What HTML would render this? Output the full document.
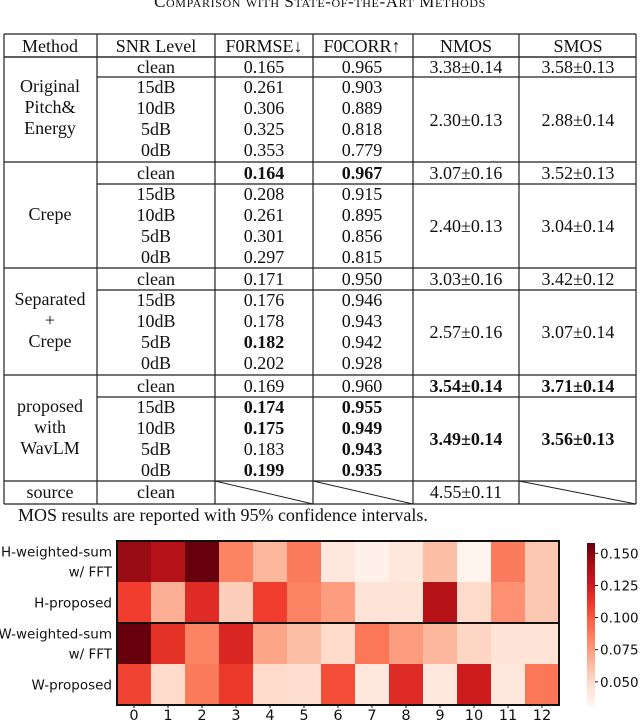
<!DOCTYPE html>
<html><head><meta charset="utf-8"><style>
html,body{margin:0;padding:0;background:#fff;width:640px;height:721px;overflow:hidden}
svg{display:block}
.t{font-family:"Liberation Serif",serif;font-size:18px;fill:#111}
.b{font-weight:bold}
.s{font-family:"DejaVu Sans","Liberation Sans",sans-serif;font-size:13.5px;fill:#111}
.x{font-size:14.5px}
</style></head><body>
<svg id="root" width="640" height="721" viewBox="0 0 640 721">
<text class="t" x="320" y="7" text-anchor="middle" style="font-variant:small-caps;font-size:17px;letter-spacing:0.6px">Comparison with State-of-the-Art Methods</text>
<g id="table"></g>
<text class="t" x="18" y="521">MOS results are reported with 95% confidence intervals.</text>
<g id="heat"></g>
</svg>
<script>
const NS='http://www.w3.org/2000/svg';
function mk(tag,attrs,parent,txt){const e=document.createElementNS(NS,tag);for(const k in attrs)e.setAttribute(k,attrs[k]);if(txt!==undefined)e.textContent=txt;parent.appendChild(e);return e;}
// ---------- Table ----------
const T=document.getElementById('table');
const colX=[4,97,215,313,413,519,636];
const colC=[50,156,264,362,466,578];
function line(x1,y1,x2,y2,w){const l=mk('line',{x1:x1,y1:y1,x2:x2,y2:y2,stroke:'#222','stroke-width':w||1.2},T);

}
function txt(x,y,s,bold,name){const e=mk('text',{x:x,y:y+6,'text-anchor':'middle',class:'t'+(bold?' b':'')},T,s);

}
const headers=['Method','SNR Level','F0RMSE↓','F0CORR↑','NMOS','SMOS'];
headers.forEach((h,i)=>txt(colC[i],46,h,false,'column-header'));
const groups=[
 {top:57,sep:77,method:['Original','Pitch&','Energy'],my:[86,107,128],rows:[['clean','0.165','0.965'],['15dB','0.261','0.903'],['10dB','0.306','0.889'],['5dB','0.325','0.818'],['0dB','0.353','0.779']],bold:[],cm:['3.38±0.14','3.58±0.13'],nm:['2.30±0.13','2.88±0.14'],mb:false},
 {top:162,sep:184,method:['Crepe'],my:[214],rows:[['clean','0.164','0.967'],['15dB','0.208','0.915'],['10dB','0.261','0.895'],['5dB','0.301','0.856'],['0dB','0.297','0.815']],bold:['0-1','0-2'],cm:['3.07±0.16','3.52±0.13'],nm:['2.40±0.13','3.04±0.14'],mb:false},
 {top:268,sep:290,method:['Separated','+','Crepe'],my:[299,320,341],rows:[['clean','0.171','0.950'],['15dB','0.176','0.946'],['10dB','0.178','0.943'],['5dB','0.182','0.942'],['0dB','0.202','0.928']],bold:['3-1'],cm:['3.03±0.16','3.42±0.12'],nm:['2.57±0.16','3.07±0.14'],mb:false},
 {top:375,sep:397,method:['proposed','with','WavLM'],my:[406,427,448],rows:[['clean','0.169','0.960'],['15dB','0.174','0.955'],['10dB','0.175','0.949'],['5dB','0.183','0.943'],['0dB','0.199','0.935']],bold:['1-1','1-2','2-1','2-2','3-2','4-1','4-2'],cm:['3.54±0.14','3.71±0.14'],nm:['3.49±0.14','3.56±0.13'],mb:true}
];
line(4,34,636,34);line(4,57,636,57);
groups.forEach(g=>{
 line(4,g.top,636,g.top); line(97,g.sep,636,g.sep);
 g.method.forEach((m,i)=>txt(colC[0],g.my[i],m,false,'method-label'));
 const ry=[ (g.top+g.sep)/2, g.sep+10, g.sep+31, g.sep+52, g.sep+73 ];
 g.rows.forEach((r,i)=>{r.forEach((v,j)=>txt(colC[j+1],ry[i],v,g.bold.includes(i+'-'+j),j==0?'snr-level':'metric-value'));});
 txt(colC[4],ry[0],g.cm[0],g.mb,'nmos-clean');txt(colC[5],ry[0],g.cm[1],g.mb,'smos-clean');
 txt(colC[4],(g.sep+g.top+106)/2,g.nm[0],g.mb,'nmos-noisy');txt(colC[5],(g.sep+g.top+106)/2,g.nm[1],g.mb,'smos-noisy');
});
line(4,481,636,481);line(4,504,636,504);
txt(colC[0],492,'source',false,'method-label');txt(colC[1],492,'clean',false,'snr-level');txt(colC[4],492,'4.55±0.11',false,'nmos-source');
line(215,481,313,504,1);line(313,481,413,504,1);line(519,481,636,504,1);
colX.forEach(x=>line(x,34,x,504));
// ---------- Heatmap ----------
const rowLabels=[['H-weighted-sum','w/ FFT'],['H-proposed'],['W-weighted-sum','w/ FFT'],['W-proposed']];
const layers=['0','1','2','3','4','5','6','7','8','9','10','11','12'];
const hWeighted=[0.145,0.135,0.158,0.085,0.065,0.088,0.042,0.035,0.042,0.062,0.033,0.088,0.058];
const hProposed=[0.110,0.068,0.118,0.055,0.110,0.085,0.075,0.045,0.045,0.135,0.050,0.080,0.058];
const wWeighted=[0.158,0.115,0.085,0.120,0.072,0.062,0.050,0.090,0.075,0.065,0.052,0.045,0.045];
const wProposed=[0.108,0.050,0.088,0.112,0.050,0.048,0.105,0.042,0.118,0.042,0.125,0.042,0.090];
const cbTicks=[0.050,0.075,0.100,0.125,0.150];
const series=[hWeighted,hProposed,wWeighted,wProposed];
const vmin=0.032,vmax=0.158;
const H=document.getElementById('heat');
const X0=117,X1=559,Y0=541,Y1=705;
const cw=(X1-X0)/layers.length, rh=(Y1-Y0)/series.length;
const xs=i=>X0+i*cw, ys=r=>Y0+r*rh;
const stops=['#fff5f0','#fee0d2','#fcbba1','#fc9272','#fb6a4a','#ef3b2c','#cb181d','#a50f15','#67000d'];
function hx(c){return [1,3,5].map(i=>parseInt(c.substr(i,2),16));}
function reds(t){t=Math.max(0,Math.min(1,t));const p=t*8,i=Math.min(7,Math.floor(p)),f=p-i;const a=hx(stops[i]),b=hx(stops[i+1]);return 'rgb('+a.map((v,k)=>Math.round(v+(b[k]-v)*f)).join(',')+')';}
const cs=v=>reds((v-vmin)/(vmax-vmin));
series.forEach((arr,r)=>arr.forEach((v,i)=>{
 const c=mk('rect',{x:xs(i),y:ys(r),width:cw+0.5,height:rh+0.5,fill:cs(v)},H);
 
 
}));
const fr=mk('rect',{x:X0,y:Y0,width:X1-X0,height:Y1-Y0,fill:'none',stroke:'#111','stroke-width':2},H);


const mid=mk('line',{x1:X0,y1:ys(2),x2:X1,y2:ys(2),stroke:'#111','stroke-width':2},H);


rowLabels.forEach((lab,r)=>{const cy=ys(r)+rh/2;const n=lab.length;lab.forEach((s,k)=>{
 const t=mk('text',{x:112,y:cy+5+(k-(n-1)/2)*20,'text-anchor':'end',class:'s'},H,s);
 
 });});
layers.forEach((l,i)=>{
 const tk=mk('line',{x1:xs(i)+cw/2,y1:Y1,x2:xs(i)+cw/2,y2:Y1+3,stroke:'#111'},H);
 
 
 const t=mk('text',{x:xs(i)+cw/2,y:720,'text-anchor':'middle',class:'s x'},H,l);
 
 });
// colorbar
const CX=587,CW=8,CY0=543,CY1=705;
const cy=v=>CY1-(v-vmin)/(vmax-vmin)*(CY1-CY0);
for(let k=0;k<60;k++){const v0=vmin+(vmax-vmin)*k/60,v1=vmin+(vmax-vmin)*(k+1)/60;
 const s=mk('rect',{x:CX,y:cy(v1),width:CW,height:cy(v0)-cy(v1)+0.5,fill:cs((v0+v1)/2)},H);
 
 }
cbTicks.forEach(v=>{
 const tk=mk('line',{x1:CX+CW,y1:cy(v),x2:CX+CW+3,y2:cy(v),stroke:'#111'},H);
 
 
 const t=mk('text',{x:600,y:cy(v)+5,class:'s'},H,v.toFixed(3));
 
 });
</script>
</body></html>
